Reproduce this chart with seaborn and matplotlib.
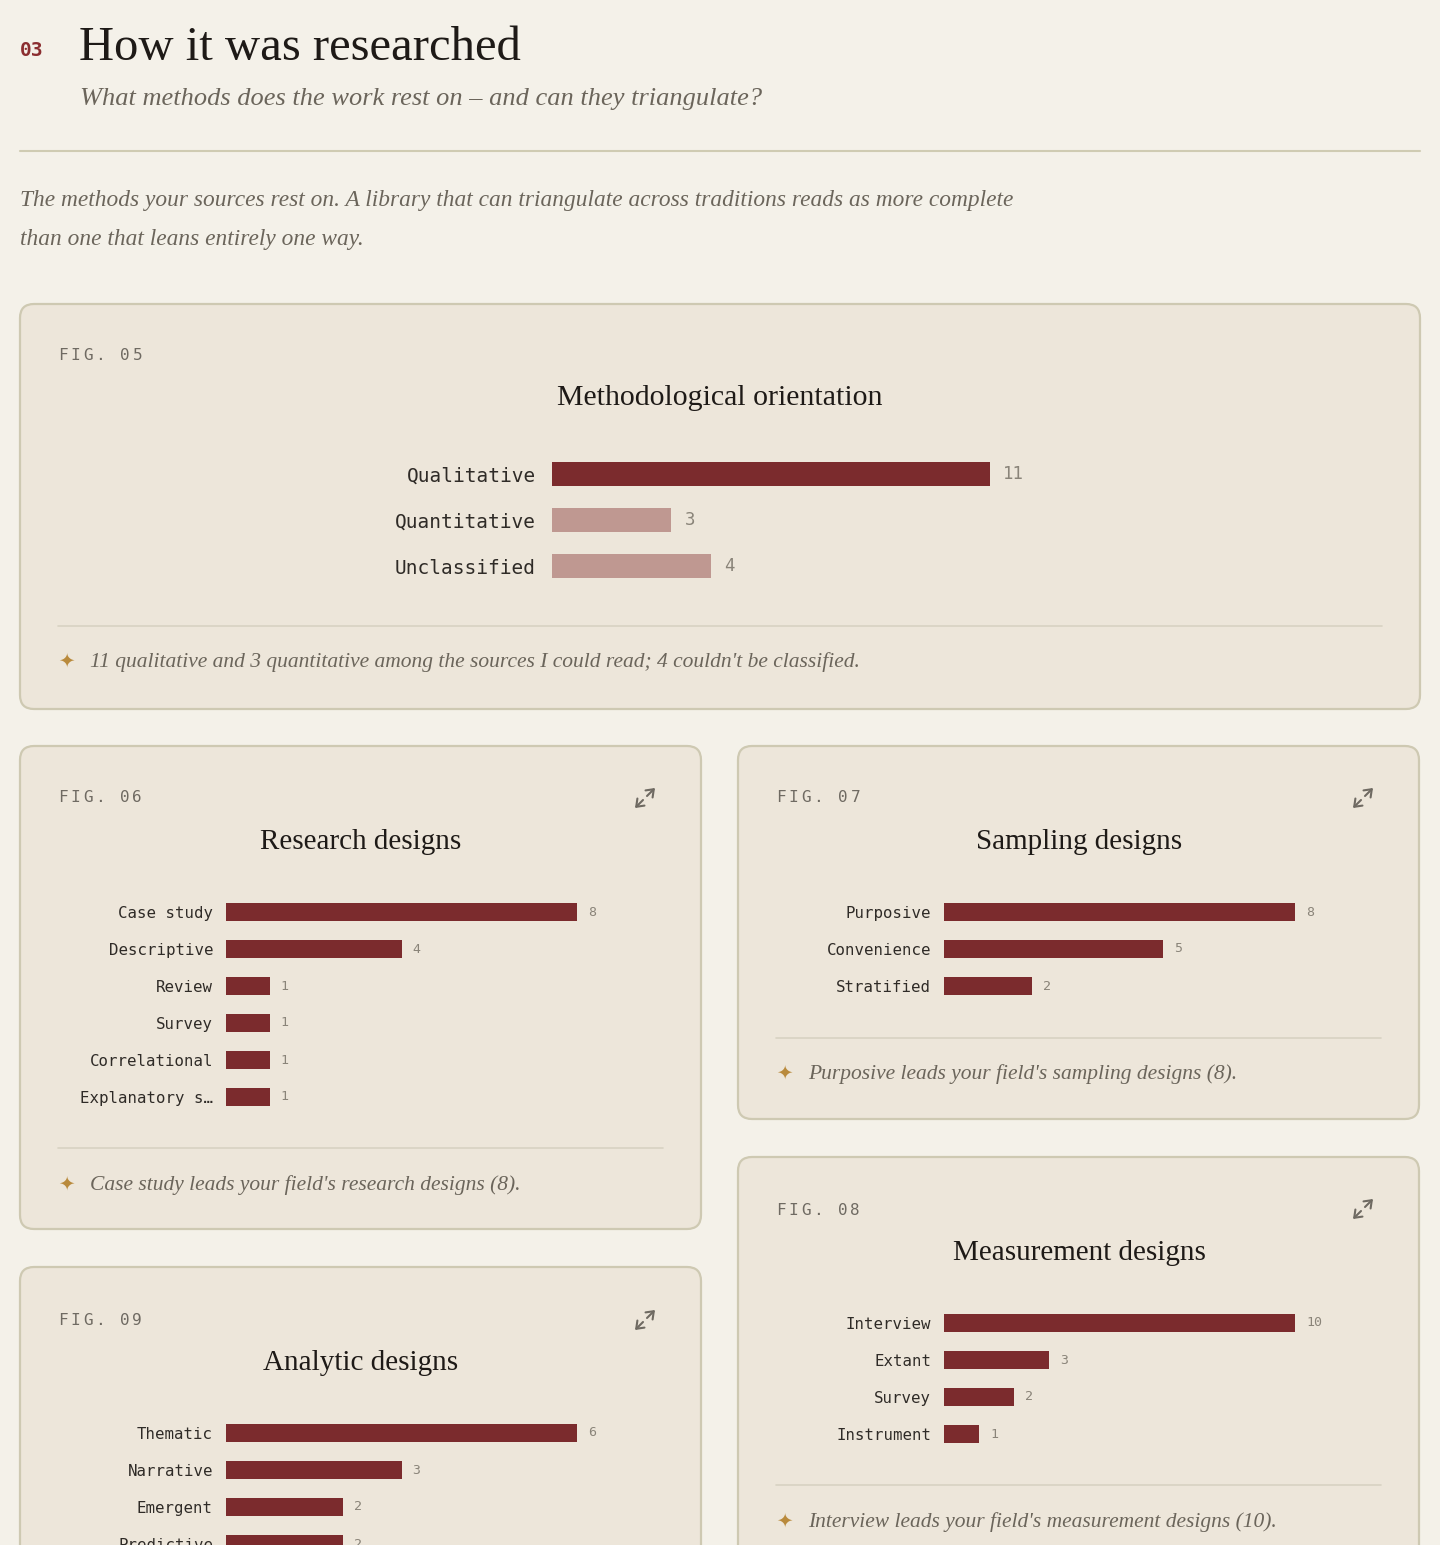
import matplotlib
matplotlib.use('Agg')
import matplotlib.pyplot as plt
import matplotlib.transforms as mtransforms
from matplotlib.patches import FancyBboxPatch
import seaborn as sns
import pandas as pd

# ---------------- data ----------------
fig05_cats = ['Qualitative', 'Quantitative', 'Unclassified']
fig05_vals = [11, 3, 4]
fig06_cats = ['Case study', 'Descriptive', 'Review', 'Survey', 'Correlational', 'Explanatory s…']
fig06_vals = [8, 4, 1, 1, 1, 1]
fig07_cats = ['Purposive', 'Convenience', 'Stratified']
fig07_vals = [8, 5, 2]
fig08_cats = ['Interview', 'Extant', 'Survey', 'Instrument']
fig08_vals = [10, 3, 2, 1]
fig09_cats = ['Thematic', 'Narrative', 'Emergent', 'Predictive']
fig09_vals = [6, 3, 2, 2]

title = 'How it was researched'
subtitle = 'What methods does the work rest on – and can they triangulate?'
intro1 = 'The methods your sources rest on. A library that can triangulate across traditions reads as more complete'
intro2 = 'than one that leans entirely one way.'
note05 = "11 qualitative and 3 quantitative among the sources I could read; 4 couldn't be classified."
note06 = "Case study leads your field's research designs (8)."
note07 = "Purposive leads your field's sampling designs (8)."
note08 = "Interview leads your field's measurement designs (10)."

# ---------------- style ----------------
W, H = 1440, 1545
PAGE = '#f4f1e9'
CARD = '#ede6da'
BORDER = '#cec9b2'
SEP = '#d8d2c2'
BAR = '#7b2b2d'
BAR_LIGHT = '#bf9891'
INK = '#1e1a17'
MUTED = '#6b655b'
LABEL = '#2f2b27'
VALUE = '#8a8479'
STAR = '#b98a3c'
SERIF = 'Liberation Serif'
MONO = 'DejaVu Sans Mono'

sns.set_theme(style='white')
plt.rcParams['font.family'] = ['DejaVu Sans']

fig = plt.figure(figsize=(W / 100, H / 100), dpi=100, facecolor=PAGE)
bg = fig.add_axes([0, 0, 1, 1], zorder=0)
bg.set_xlim(0, W)
bg.set_ylim(H, 0)
bg.axis('off')

# ---------------- header ----------------
bg.text(20, 56, '03', fontfamily=MONO, fontweight='bold', fontsize=14, color='#8b2e30', va='baseline')
bg.text(79, 60, title, fontfamily=SERIF, fontsize=35, color=INK, va='baseline')
bg.text(80, 105, subtitle, fontfamily=SERIF, style='italic', fontsize=19, color=MUTED, va='baseline')
bg.plot([20, 1420], [151, 151], color='#cfcbb2', lw=1.5)
bg.text(20, 206, intro1, fontfamily=SERIF, style='italic', fontsize=16.8, color=MUTED, va='baseline')
bg.text(20, 245, intro2, fontfamily=SERIF, style='italic', fontsize=16.8, color=MUTED, va='baseline')


def card(x0, y0, x1, y1):
    p = FancyBboxPatch((x0, y0), x1 - x0, y1 - y0,
                       boxstyle='round,pad=0,rounding_size=14',
                       fc=CARD, ec=BORDER, lw=1.6)
    bg.add_patch(p)


def fig_label(x, y, s):
    for i, ch in enumerate(s):
        bg.text(x + i * 12.4, y, ch, fontfamily=MONO, fontsize=11.5,
                color='#6f6a62', va='baseline')


def expand_icon(cx, cy):
    kw = dict(arrowstyle='->,head_length=0.4,head_width=0.3', lw=1.5, color='#6f6a62',
              shrinkA=0, shrinkB=0, mutation_scale=12)
    bg.annotate('', xy=(cx + 10, cy - 10), xytext=(cx + 2, cy - 2), arrowprops=kw)
    bg.annotate('', xy=(cx - 10, cy + 10), xytext=(cx - 2, cy + 2), arrowprops=kw)


def footnote(x, y, sep_x1, sep_y, s):
    bg.plot([x, sep_x1], [sep_y, sep_y], color=SEP, lw=1.2)
    bg.text(x + 8, y, '✦', fontfamily='DejaVu Sans', fontsize=14, color=STAR,
            va='center', ha='center')
    bg.text(x + 32, y + 6, s, fontfamily=SERIF, style='italic', fontsize=15.5,
            color=MUTED, va='baseline')


def bars(cats, vals, x0, x_max, y_first, spacing, bar_px, colors,
         labelsize, valsize, lpad_px, vpad_px):
    n = len(cats)
    top = y_first - spacing / 2
    bottom = top + n * spacing
    ax = fig.add_axes([x0 / W, 1 - bottom / H, (x_max - x0) / W, (bottom - top) / H], zorder=2)
    ax.patch.set_alpha(0)
    df = pd.DataFrame({'cat': cats, 'val': vals})
    sns.barplot(data=df, y='cat', x='val', hue='cat', palette=colors, orient='h',
                width=bar_px / spacing, legend=False, ax=ax, linewidth=0,
                saturation=1, errorbar=None)
    ax.set_xlim(0, max(vals))
    ax.set_ylim(n - 0.5, -0.5)
    for s in ax.spines.values():
        s.set_visible(False)
    ax.set_xticks([])
    ax.set_xlabel('')
    ax.set_ylabel('')
    ax.tick_params(axis='y', length=0, pad=lpad_px * 0.72, labelsize=labelsize, labelcolor=LABEL)
    for t in ax.get_yticklabels():
        t.set_fontfamily(MONO)
    tr = mtransforms.offset_copy(ax.transData, fig=fig, x=vpad_px, y=0, units='dots')
    for i, v in enumerate(vals):
        ax.text(v, i, str(v), transform=tr, fontfamily=MONO, fontsize=valsize,
                color=VALUE, va='center', ha='left', clip_on=False)
    return ax


# ---------------- FIG 05 ----------------
card(20, 304, 1420, 709)
fig_label(58, 360, 'FIG. 05')
bg.text(720, 405, 'Methodological orientation', fontfamily=SERIF, fontsize=21.5,
        color=INK, va='baseline', ha='center')
bars(fig05_cats, fig05_vals, 552, 990, 474, 46, 24,
     [BAR, BAR_LIGHT, BAR_LIGHT], 14, 12.5, 16, 13)
footnote(58, 661, 1382, 626, note05)

# ---------------- FIG 06 ----------------
card(20, 746, 701, 1229)
fig_label(58, 802, 'FIG. 06')
expand_icon(645, 798)
bg.text(361, 849, 'Research designs', fontfamily=SERIF, fontsize=21,
        color=INK, va='baseline', ha='center')
bars(fig06_cats, fig06_vals, 226, 577, 912, 37, 18,
     [BAR] * len(fig06_cats), 11.3, 9.5, 13, 11)
footnote(58, 1184, 663, 1148, note06)

# ---------------- FIG 07 ----------------
card(738, 746, 1419, 1119)
fig_label(776, 802, 'FIG. 07')
expand_icon(1363, 798)
bg.text(1079, 849, 'Sampling designs', fontfamily=SERIF, fontsize=21,
        color=INK, va='baseline', ha='center')
bars(fig07_cats, fig07_vals, 944, 1295, 912, 37, 18,
     [BAR] * len(fig07_cats), 11.3, 9.5, 13, 11)
footnote(776, 1073, 1381, 1038, note07)

# ---------------- FIG 08 ----------------
card(738, 1157, 1419, 1600)
fig_label(776, 1215, 'FIG. 08')
expand_icon(1363, 1209)
bg.text(1079, 1260, 'Measurement designs', fontfamily=SERIF, fontsize=21,
        color=INK, va='baseline', ha='center')
bars(fig08_cats, fig08_vals, 944, 1295, 1323, 37, 18,
     [BAR] * len(fig08_cats), 11.3, 9.5, 13, 11)
footnote(776, 1521, 1381, 1485, note08)

# ---------------- FIG 09 ----------------
card(20, 1267, 701, 1700)
fig_label(58, 1325, 'FIG. 09')
expand_icon(645, 1320)
bg.text(361, 1370, 'Analytic designs', fontfamily=SERIF, fontsize=21,
        color=INK, va='baseline', ha='center')
bars(fig09_cats, fig09_vals, 226, 577, 1433, 37, 18,
     [BAR] * len(fig09_cats), 11.3, 9.5, 13, 11)

fig.savefig('out.png', dpi=100, facecolor=PAGE)
